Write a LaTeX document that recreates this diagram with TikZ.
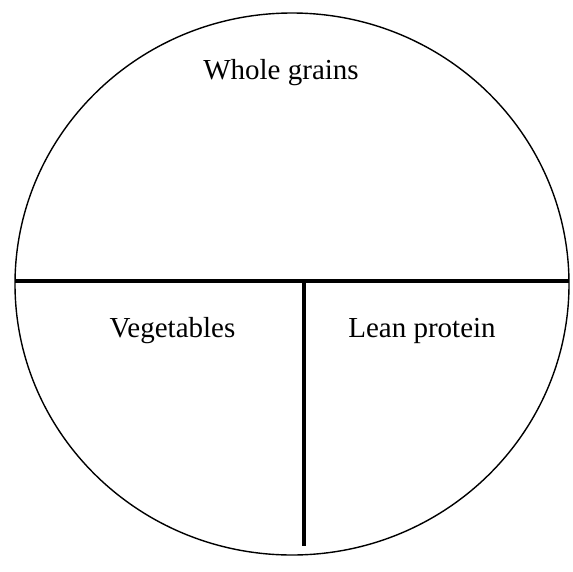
\documentclass[tikz,border=0pt]{standalone}
\usepackage{fontspec}
\setmainfont{Liberation Serif}
\begin{document}
\begin{tikzpicture}[x=1pt,y=-1pt,
  rim/.style={draw=black,line width=1.4pt},
  divider/.style={draw=black,line width=4.5pt},
  label/.style={font=\fontsize{29}{33}\selectfont,inner sep=0pt,anchor=base}]
\useasboundingbox (0,0) rectangle (573,571);
\draw[rim] (292,284) ellipse [x radius=277, y radius=271];
\coordinate (L) at (15,281);
\coordinate (R) at (569,281);
\coordinate (T) at (304,281);
\coordinate (B) at (304,546);
\draw[divider] (L) -- (R);
\draw[divider] (T) -- (B);
\node[label] (wg) at (281,79) {Whole grains};
\node[label] (veg) at (172.5,337) {Vegetables};
\node[label] (lp) at (422,337) {Lean protein};
\end{tikzpicture}
\end{document}
